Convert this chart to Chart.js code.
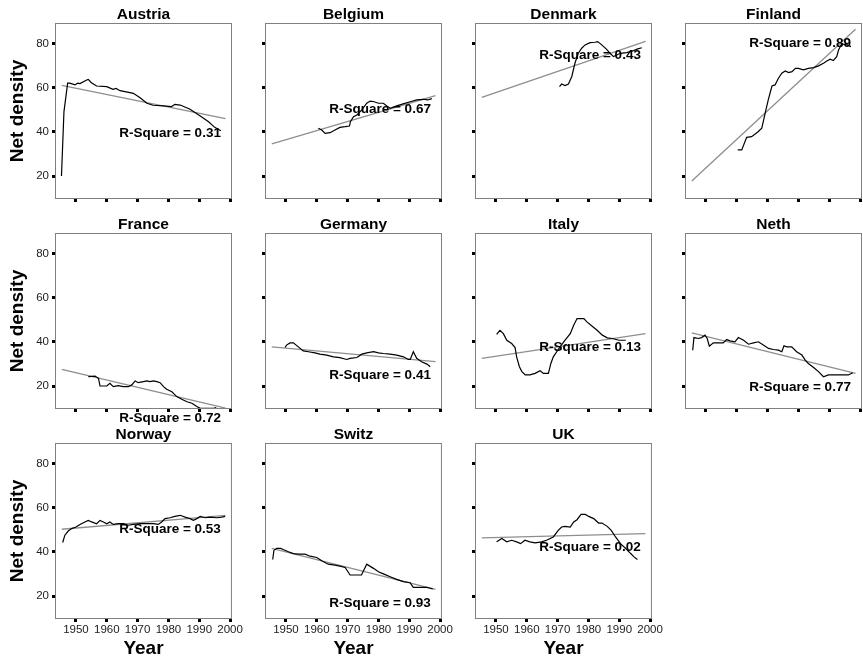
<!DOCTYPE html>
<html>
<head>
<meta charset="utf-8">
<title>Net density by country</title>
<script src="https://cdn.jsdelivr.net/npm/chart.js@4.4.1/dist/chart.umd.min.js"></script>
<style>
  html, body { margin: 0; padding: 0; background: #fff; overflow: hidden; }
  #page { position: relative; width: 863px; height: 661px; font-family: 'Liberation Sans', Arial, sans-serif; }
  #page canvas { position: absolute; }
  .ylab { position: absolute; font-weight: bold; font-size: 19px; white-space: nowrap;
          transform: translate(-50%, -50%) rotate(-90deg); }
  .xlab { position: absolute; font-weight: bold; font-size: 19px; white-space: nowrap;
          transform: translate(-50%, -50%); }
</style>
</head>
<body>
<div id="page"></div>
<script>
// ---- data -------------------------------------------------------------
const countries = ['Austria', 'Belgium', 'Denmark', 'Finland', 'France', 'Germany',
                   'Italy', 'Neth', 'Norway', 'Switz', 'UK'];
const rSquare = [0.31, 0.67, 0.43, 0.89, 0.72, 0.41, 0.13, 0.77, 0.53, 0.93, 0.02];

const yearTicks = [1950, 1960, 1970, 1980, 1990, 2000];
const densityTicks = [20, 40, 60, 80];

const austriaYr = [1945.3, 1946.1, 1947.3, 1948, 1949.7, 1950.5, 1951.3, 1953.5, 1954, 1955, 1956.7, 1960, 1962, 1963,
  1964.3, 1967.5, 1968.6, 1970.8, 1973, 1975, 1978.4, 1981, 1982.1, 1983.8, 1987, 1990.3, 1993, 1995, 1997];
const austriaVal = [20, 49, 62, 62, 61.2, 62, 61.8, 63.4, 63.7, 62.2, 60.7, 60.4, 59.2, 59.6,
  58.6, 57.7, 57.4, 55.4, 52.9, 52, 51.7, 51.4, 52.4, 52.1, 50.2, 47.1, 44.5, 42, 40.5];

const belgiumYr = [1960.5, 1961.6, 1962.7, 1964.3, 1965.9, 1967.5, 1969.2, 1970.6, 1970.9, 1971.9, 1973, 1974.6, 1976.2,
  1977.3, 1978.6, 1980, 1981.6, 1982.7, 1983.8, 1985.9, 1988, 1990.3, 1992.4, 1994.6, 1996, 1997.3];
const belgiumVal = [41.6, 40.8, 39.3, 39.6, 40.8, 42, 42.3, 42.6, 44.6, 46.8, 47.6, 49.9, 52.9,
  53.9, 53.6, 52.9, 52.9, 51.7, 50.6, 51.7, 52.6, 53.6, 54.4, 54.7, 54.4, 55];

const denmarkYr = [1970.6, 1971.3, 1972.4, 1973.5, 1974.6, 1975.6, 1976.7, 1977.8, 1978.9, 1980.5, 1982.1, 1983,
  1984.3, 1985.9, 1987, 1988.1, 1989.2, 1990.3, 1992.4, 1994.6, 1996, 1997.3];
const denmarkVal = [60.4, 61.6, 60.9, 61.6, 65, 71, 75.5, 77.8, 79.3, 80.3, 80.5, 80.8,
  79.3, 77.3, 75.5, 74, 74.7, 75.5, 75.8, 76.7, 77.5, 78];

const finlandYr = [1960.3, 1961.6, 1963.2, 1964.8, 1966.9, 1968.1, 1969.2, 1970.2, 1971.4, 1972.4, 1973.5, 1974.6,
  1975.7, 1976.8, 1977.9, 1979, 1980, 1981.6, 1983.2, 1984.9, 1986.5, 1988.1, 1989.2, 1990.3, 1991.3, 1992.4,
  1993, 1994, 1995.7, 1997];
const finlandVal = [31.8, 31.8, 37.5, 37.8, 40, 41.6, 48.4, 54.4, 60.7, 61.2, 64.2, 66.5,
  67.5, 66.8, 67.2, 68.7, 68.7, 68, 68.7, 69, 69.8, 71, 72, 72.8, 72.2, 74,
  77, 79.7, 79.3, 78.5];

const franceYr = [1954, 1956.2, 1957.3, 1957.8, 1960, 1961, 1962.1, 1963.7, 1965.4, 1967, 1968.1, 1969.2, 1970.2,
  1971.9, 1973, 1974, 1975.1, 1976.2, 1977.3, 1978.4, 1979.4, 1981.1, 1982.7, 1984.3, 1986, 1987.6, 1989.2,
  1990.3, 1994.6, 1995.5];
const franceVal = [24.2, 24.5, 23.5, 20, 20, 21.2, 19.7, 20.2, 19.7, 19.7, 20.5, 22.3, 21.5,
  22, 22.3, 22, 22.3, 22, 21.5, 19.7, 18.5, 17.4, 15.2, 14, 12.9, 12.2, 10.7,
  9.9, 9.9, 10.3];

const germanyYr = [1949.7, 1950.2, 1951.3, 1952.4, 1954, 1955.6, 1957.3, 1959.4, 1961, 1963.2, 1965.4, 1967.5,
  1969.7, 1970.8, 1973, 1974.6, 1976.2, 1978.4, 1980, 1981.6, 1983.8, 1985.9, 1988.1, 1989.7, 1990.3, 1991.3,
  1992.4, 1994, 1995.7, 1996.8];
const germanyVal = [37.4, 38.5, 39.5, 39.5, 37.7, 35.9, 35.5, 35, 34.4, 34, 33.2, 32.8,
  32, 32.5, 32.9, 34.4, 35, 35.5, 35, 34.7, 34.4, 34, 33.2, 32, 32, 35.5,
  32.5, 31, 29.9, 28.7];

const italyYr = [1950.2, 1951.3, 1952.4, 1953.5, 1955.1, 1956.2, 1956.7, 1957.6, 1958.4, 1959.5, 1961, 1962.7,
  1964.3, 1965.4, 1967, 1967.8, 1968.6, 1969.7, 1970.8, 1972.4, 1974.1, 1975.2, 1976.3, 1977.4, 1978.5, 1979.5,
  1981.2, 1982.8, 1984.5, 1986.1, 1987.7, 1989.9, 1992.1];
const italyVal = [43.3, 45.2, 43.7, 40.7, 39.2, 37.4, 33.2, 28.7, 26.5, 25, 25, 25.7,
  26.9, 25.7, 25.7, 30.2, 33.2, 35.5, 37.7, 40.7, 43.7, 47.5, 50.5, 50.5, 50.5, 49,
  47, 45.2, 43, 41.8, 41.5, 40.7, 40.7];

const nethYr = [1945.7, 1946.1, 1947.5, 1948.6, 1949.7, 1950.4, 1951.1, 1952.4, 1954, 1955.6, 1956.7, 1957.8,
  1959.4, 1960.5, 1962.2, 1963.8, 1965.4, 1967, 1968.6, 1970.3, 1971.9, 1973.5, 1974.6, 1975.3, 1976.2, 1977.8,
  1979.4, 1981.1, 1982.2, 1983.2, 1984.9, 1986.5, 1988.1, 1989.7, 1993.5, 1996.2, 1997.6];
const nethVal = [36.2, 41.9, 41.5, 41.9, 43, 41.5, 38, 39.5, 39.5, 39.5, 41, 40.4,
  40, 41.9, 40.7, 38.9, 39.5, 40, 38.5, 37, 36.5, 36.2, 35.5, 38.2, 37.7, 37.7,
  35.5, 34, 31.7, 30.2, 28.4, 26.5, 24.2, 25, 25, 25, 26];

const norwayYr = [1945.7, 1946.4, 1947.5, 1948.6, 1950, 1951.3, 1952.9, 1954, 1955.1, 1956.7, 1957.8, 1958.9,
  1960, 1961, 1962.1, 1963.7, 1965.4, 1967, 1968.6, 1970.8, 1973, 1975.1, 1976.7, 1977.8, 1978.9, 1980.5,
  1982.1, 1983.8, 1985.4, 1987, 1988.1, 1989.2, 1990.3, 1991.9, 1993.5, 1995.7, 1997.3, 1998.4];
const norwayVal = [44.2, 47.5, 49.4, 50.5, 51.2, 52.3, 53.5, 54.2, 53.5, 52.7, 54.2, 53.5,
  52.7, 53.5, 52.4, 52.7, 52.7, 52, 52.4, 52.7, 52.7, 52.7, 52.4, 53.5, 55, 55.4,
  56, 56.5, 55.7, 55, 54.2, 55, 56, 55.4, 55.7, 55.4, 55.7, 56];

const switzYr = [1945.7, 1946.1, 1947, 1948.3, 1949.1, 1950.8, 1952.4, 1954, 1956.2, 1957.8, 1960, 1961.6,
  1963.7, 1965.9, 1967.5, 1969.2, 1970.8, 1972.4, 1974.5, 1976.2, 1978.4, 1980, 1981.6, 1983.8, 1985.9, 1988.1,
  1990.3, 1991.3, 1993.5, 1995.7, 1996.8, 1997.6];
const switzVal = [36.5, 40.7, 41.5, 41.5, 41, 40, 39.2, 38.9, 38.9, 38, 37.4, 35.9,
  34.4, 34, 33.5, 32.9, 29.5, 29.5, 29.5, 34.4, 32.5, 31, 30, 28.7, 27.5, 26.5,
  26, 23.9, 23.9, 23.9, 23.5, 23.2];

const ukYr = [1950.2, 1951.9, 1953.5, 1955.1, 1956.7, 1958, 1959.4, 1961, 1962.7, 1964.8, 1966.4, 1968.6,
  1970.2, 1971.3, 1972.4, 1974.1, 1975.2, 1976.3, 1977.6, 1979, 1980.1, 1981.7, 1983.3, 1984.4, 1986.1, 1987.4,
  1988.8, 1990.4, 1992.1, 1993.7, 1994.8, 1995.9];
const ukVal = [44.5, 46, 44.5, 45.2, 44.5, 43.7, 45.2, 44.5, 44, 44.5, 45.2, 46.7,
  49.7, 51.2, 51.5, 51.2, 53.5, 54.5, 56.9, 56.9, 56, 55, 53, 53, 51.5, 49.7,
  46.7, 43.7, 41.5, 39.2, 37.7, 36.5];

// linear fit, value at each end of fitYears
const fitYears = [1945.4, 1998.5];
const fitStart = [61, 34.5, 55.6, 17.7, 27.5, 37.7, 32.5, 44, 50.2, 41.5, 46.3];
const fitEnd = [46, 56.3, 80.9, 86.4, 10, 31, 43.7, 25.7, 56.5, 23, 48.2];

const seriesYr = [austriaYr, belgiumYr, denmarkYr, finlandYr, franceYr, germanyYr,
                  italyYr, nethYr, norwayYr, switzYr, ukYr];
const seriesVal = [austriaVal, belgiumVal, denmarkVal, finlandVal, franceVal, germanyVal,
                   italyVal, nethVal, norwayVal, switzVal, ukVal];

// ---- layout -----------------------------------------------------------
const colLeft = [55, 265, 475, 685];
const rowTop = [23, 233, 443];
const plotW = 177, plotH = 176;
const axisW = 55, axisH = 46, padRight = 12;
const labelYear = 1997;                       // R-Square text is right-aligned here
const labelAt = [39.5, 50, 74.7, 80, 5.4, 25, 37.3, 19.2, 50, 16.7, 42.2];
const FONT = "'Liberation Sans', Arial, sans-serif";

const page = document.getElementById('page');

// box, panel title and R-Square note
const panelDecor = {
  id: 'panelDecor',
  afterDraw(chart, args, opts) {
    const { ctx, chartArea: a, scales } = chart;
    ctx.save();
    ctx.strokeStyle = '#808080';
    ctx.lineWidth = 1;
    ctx.strokeRect(a.left + 0.5, a.top + 0.5, a.right - a.left - 1, a.bottom - a.top - 1);

    ctx.fillStyle = '#000';
    ctx.font = 'bold 15.5px ' + FONT;
    ctx.textAlign = 'center';
    ctx.textBaseline = 'alphabetic';
    ctx.fillText(opts.title, (a.left + a.right) / 2, a.top - 4.5);

    ctx.font = 'bold 13.5px ' + FONT;
    ctx.textAlign = 'right';
    ctx.textBaseline = 'middle';
    ctx.fillText(opts.note, scales.x.getPixelForValue(labelYear), scales.y.getPixelForValue(opts.noteY));
    ctx.restore();
  }
};

countries.forEach((name, i) => {
  const row = Math.floor(i / 4), col = i % 4;
  const showY = col === 0;
  const showX = row === 2;

  const canvas = document.createElement('canvas');
  canvas.width = axisW + plotW + padRight;
  canvas.height = rowTop[0] + plotH + axisH;
  canvas.style.left = (colLeft[col] - axisW) + 'px';
  canvas.style.top = (rowTop[row] - rowTop[0]) + 'px';
  page.appendChild(canvas);

  const points = seriesYr[i].map((yr, k) => ({ x: yr, y: seriesVal[i][k] }));
  const fit = [{ x: fitYears[0], y: fitStart[i] }, { x: fitYears[1], y: fitEnd[i] }];

  const tickGrid = { drawOnChartArea: false, drawTicks: true, tickLength: 3, tickWidth: 3, tickColor: '#000' };

  new Chart(canvas, {
    type: 'line',
    data: {
      datasets: [
        { data: points, borderColor: '#000', borderWidth: 1.2, pointRadius: 0, tension: 0, fill: false },
        { data: fit, borderColor: '#8e8e8e', borderWidth: 1.3, pointRadius: 0, tension: 0, fill: false }
      ]
    },
    options: {
      responsive: false,
      animation: false,
      devicePixelRatio: 1,
      layout: { padding: { top: rowTop[0], right: padRight, left: 0, bottom: 0 } },
      plugins: {
        legend: { display: false },
        tooltip: { enabled: false },
        panelDecor: { title: name, note: 'R-Square = ' + rSquare[i].toFixed(2), noteY: labelAt[i] }
      },
      scales: {
        x: {
          type: 'linear',
          min: 1943.2,
          max: 2000.6,
          afterBuildTicks: s => { s.ticks = yearTicks.map(v => ({ value: v })); },
          afterFit: s => { s.height = axisH; },
          ticks: {
            display: showX, autoSkip: false, maxRotation: 0, padding: 1,
            color: '#222', font: { family: FONT, size: 11.5 },
            callback: v => String(v)
          },
          grid: tickGrid,
          border: { display: false }
        },
        y: {
          type: 'linear',
          min: 9.6,
          max: 89.2,
          afterBuildTicks: s => { s.ticks = densityTicks.map(v => ({ value: v })); },
          afterFit: s => { s.width = axisW; },
          ticks: {
            display: showY, padding: 3,
            color: '#222', font: { family: FONT, size: 11.5 },
            callback: v => String(v)
          },
          grid: tickGrid,
          border: { display: false }
        }
      }
    },
    plugins: [panelDecor]
  });
});

// shared axis titles
rowTop.forEach(top => {
  const d = document.createElement('div');
  d.className = 'ylab';
  d.textContent = 'Net density';
  d.style.left = '17px';
  d.style.top = (top + plotH / 2) + 'px';
  page.appendChild(d);
});
colLeft.slice(0, 3).forEach(left => {
  const d = document.createElement('div');
  d.className = 'xlab';
  d.textContent = 'Year';
  d.style.left = (left + plotW / 2) + 'px';
  d.style.top = '648px';
  page.appendChild(d);
});
</script>
</body>
</html>
